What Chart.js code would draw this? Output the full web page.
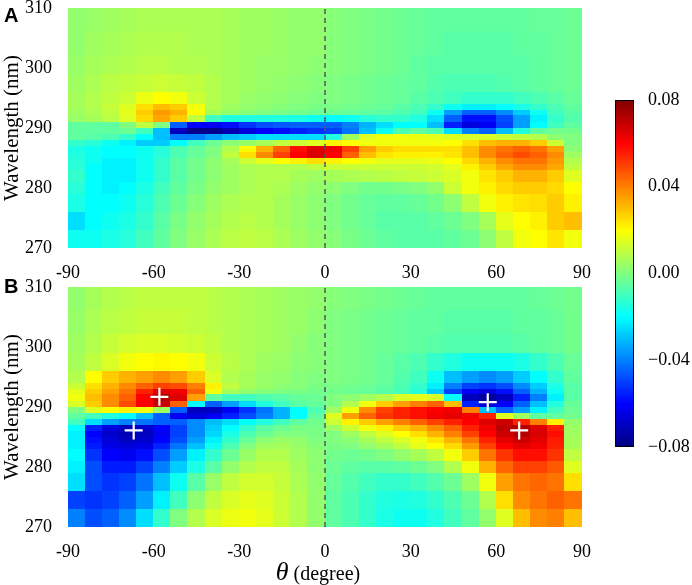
<!DOCTYPE html>
<html>
<head>
<meta charset="utf-8">
<script src="https://cdn.jsdelivr.net/npm/chart.js@4.4.1/dist/chart.umd.min.js"></script>
<style>
  body { margin: 0; background: #fff; }
  #wrap { position: relative; width: 692px; height: 585px; overflow: hidden; }
  canvas { position: absolute; }
</style>
</head>
<body>
<div id="wrap">
  <canvas id="panelA" width="600" height="280" style="left:0px;top:0px"></canvas>
  <canvas id="panelB" width="600" height="311" style="left:0px;top:274px"></canvas>
  <canvas id="colorbar" width="92" height="370" style="left:600px;top:90px"></canvas>
</div>
<script>
// theta bin centres (degree), each bin 6 degrees wide
const theta = [-87,-81,-75,-69,-63,-57,-51,-45,-39,-33,-27,-21,-15,-9,-3,3,9,15,21,27,33,39,45,51,57,63,69,75,81,87];
// wavelength bin edges (nm), top row first
const wavelengthEdges = [310,306,302,299,296,294,293,292,291,290,289,288,287,286,285,284,283,281,279,276,273,270];
const thetaTicks = [-90,-60,-30,0,30,60,90];
const wavelengthTicks = [270,280,290,300,310];
const colorTicks = [-0.08,-0.04,0,0.04,0.08];

// signal x 1000, one row per wavelength bin (top to bottom), one value per theta bin
const panelA = [
  [3,4,5,6,7,7,7,7,7,6,5,5,4,3,3, 1,0,-1,-2,-3,-4,-5,-5,-5,-5,-5,-5,-4,-4,-3],
  [3,5,6,7,8,8,8,7,7,6,5,5,4,3,3, 1,0,-1,-2,-3,-4,-5,-6,-6,-6,-6,-5,-5,-4,-3],
  [4,6,7,8,9,9,8,8,7,6,5,4,4,3,2, 1,0,-1,-2,-3,-5,-6,-6,-6,-6,-6,-6,-5,-4,-3],
  [5,7,9,10,11,12,11,10,8,6,5,4,3,2,1, 0,-1,-2,-3,-4,-5,-7,-8,-8,-8,-7,-6,-5,-4,-3],
  [6,8,10,12,17,20,18,12,8,6,4,3,2,1,0, 0,-1,-2,-3,-4,-6,-8,-10,-12,-12,-12,-10,-8,-6,-4],
  [6,8,11,15,25,30,28,18,8,5,3,2,1,0,-1, -1,-2,-3,-4,-6,-8,-12,-18,-22,-22,-20,-16,-12,-8,-5],
  [5,7,10,16,28,36,32,20,6,3,1,0,-1,-2,-3, -3,-4,-5,-6,-8,-10,-18,-35,-45,-45,-38,-28,-18,-10,-6],
  [4,6,9,15,26,34,28,10,-10,-15,-15,-15,-15,-16,-18, -20,-18,-14,-12,-12,-15,-25,-45,-58,-58,-48,-35,-22,-12,-7],
  [-5,-5,-5,0,10,0,-45,-60,-62,-58,-52,-48,-46,-45,-45, -45,-40,-32,-25,-20,-20,-30,-55,-65,-62,-50,-35,-20,-10,-5],
  [-5,-5,-5,-3,-10,-30,-70,-78,-78,-72,-65,-60,-58,-55,-52, -50,-42,-30,-18,-8,-5,-8,-25,-40,-45,-30,-15,-5,-2,-2],
  [-5,-6,-8,-12,-20,-30,-40,-40,-35,-30,-28,-25,-25,-25,-25, -15,5,15,18,18,17,16,15,14,14,12,10,8,2,0],
  [-12,-14,-18,-22,-28,-28,-20,-10,-3,2,4,6,10,12,15, 22,20,18,18,18,18,18,20,25,30,32,32,28,12,0],
  [-16,-18,-20,-20,-18,-14,-8,-4,0,8,20,32,45,58,65, 62,50,35,28,25,25,25,25,30,38,42,45,42,35,2],
  [-15,-18,-20,-20,-18,-14,-8,-4,0,10,25,38,50,60,66, 60,45,30,24,22,22,22,24,30,38,44,48,45,38,5],
  [-14,-18,-22,-22,-18,-12,-6,-2,2,6,12,16,20,22,25, 22,20,18,16,16,16,17,20,26,32,38,42,42,36,8],
  [-14,-20,-22,-22,-18,-12,-6,-2,2,5,7,8,8,8,10, 12,12,12,12,12,12,13,16,22,28,34,38,38,34,10],
  [-12,-20,-22,-22,-18,-12,-6,-2,2,5,7,8,8,6,5, 6,7,8,9,10,11,12,14,18,24,28,32,32,28,15],
  [-14,-20,-22,-20,-16,-10,-5,-1,3,5,7,8,7,5,3, 2,0,-2,-2,-1,0,3,12,18,22,26,28,28,26,20],
  [-16,-20,-20,-18,-14,-8,-3,1,5,7,8,8,6,4,2, 0,-2,-4,-5,-5,-4,-2,2,10,18,22,24,25,28,22],
  [-25,-20,-18,-16,-12,-6,-1,3,6,8,9,8,6,4,2, 0,-2,-4,-6,-6,-6,-5,-3,0,6,16,20,22,28,30],
  [-18,-18,-16,-14,-10,-5,0,4,7,9,10,9,7,5,3, 1,-1,-3,-5,-6,-6,-6,-5,-3,2,10,18,20,24,18]
];
const panelB = [
  [3,6,8,9,10,10,10,10,9,8,7,6,5,4,3, 1,0,-1,-2,-3,-4,-5,-5,-5,-5,-5,-5,-4,-3,-2],
  [4,7,9,10,11,11,11,10,9,8,7,6,5,4,2, 0,-1,-2,-3,-4,-5,-5,-6,-6,-6,-6,-5,-5,-4,-2],
  [5,8,11,13,14,14,13,12,10,8,7,6,5,3,1, 0,-1,-2,-3,-4,-5,-6,-7,-7,-7,-7,-6,-5,-4,-2],
  [6,10,14,18,20,21,20,18,12,9,7,5,4,2,1, 0,-1,-2,-4,-6,-8,-12,-15,-18,-18,-18,-16,-12,-8,-4],
  [8,20,28,32,35,38,35,28,14,8,6,4,3,1,0, 0,-1,-2,-4,-7,-10,-18,-30,-35,-38,-35,-28,-20,-12,-5],
  [12,25,32,38,45,50,48,40,22,10,6,4,2,1,-1, -1,-2,-3,-5,-8,-12,-22,-40,-50,-52,-48,-38,-28,-16,-6],
  [16,28,35,42,55,65,62,45,18,6,3,1,0,-1,-2, -2,-3,-4,-6,-9,-14,-28,-50,-62,-65,-58,-45,-32,-18,-6],
  [18,30,38,45,60,72,65,35,-5,-10,-10,-8,-6,-4,-3, 0,2,5,8,14,16,14,-20,-70,-75,-70,-55,-40,-22,-6],
  [14,28,38,48,60,68,45,-20,-45,-35,-25,-15,-10,-6,-4, 0,8,18,28,35,40,45,30,-55,-65,-60,-45,-30,-15,-4],
  [0,15,20,22,18,5,-45,-70,-70,-62,-52,-42,-32,-20,-8, 5,18,38,50,55,58,60,62,40,-30,-45,-35,-22,-10,-3],
  [-5,-10,-15,-20,-30,-45,-62,-65,-62,-55,-48,-40,-32,-20,-5, 15,35,45,52,55,58,62,64,62,55,15,5,-5,-5,-2],
  [-10,-25,-35,-40,-42,-45,-45,-38,-30,-25,-20,-15,-10,-5,-2, 12,22,28,35,40,45,50,55,60,65,68,55,40,22,3],
  [-20,-55,-65,-70,-68,-60,-50,-38,-28,-20,-12,-6,-3,-1,-1, 5,12,18,22,28,32,38,45,55,62,70,72,65,55,5],
  [-22,-60,-68,-72,-70,-62,-50,-38,-26,-16,-8,-3,0,0,-1, 0,5,10,15,20,25,32,40,50,60,68,72,66,58,5],
  [-22,-58,-66,-70,-68,-60,-48,-35,-22,-12,-4,2,4,3,0, 0,2,6,10,14,18,24,32,42,55,64,68,64,56,6],
  [-22,-56,-64,-66,-64,-55,-42,-30,-18,-8,0,5,6,4,1, -1,0,3,6,10,16,20,26,36,50,60,64,62,55,6],
  [-20,-52,-60,-62,-58,-48,-35,-22,-12,-3,4,8,8,5,2, -2,-3,-2,0,3,6,10,18,28,42,52,58,58,52,10],
  [-22,-48,-56,-56,-50,-40,-28,-16,-6,3,8,10,10,6,2, -3,-5,-6,-6,-5,-3,0,8,18,32,44,50,50,46,15],
  [-25,-48,-52,-50,-42,-30,-18,-6,4,10,13,13,11,7,3, -4,-7,-10,-12,-12,-10,-7,-3,5,18,35,42,44,42,25],
  [-50,-52,-50,-45,-35,-22,-10,2,10,14,16,15,12,8,3, -5,-8,-12,-15,-16,-15,-12,-8,-3,8,25,38,42,45,42],
  [-40,-48,-45,-38,-25,-12,0,8,14,17,18,16,12,8,3, -5,-8,-12,-16,-18,-18,-15,-10,-5,3,15,30,38,40,30]
];

// marked extrema in panel B
const crossTheta = [-58, -67, 57, 68];
const crossWavelength = [291.7, 286.1, 290.8, 286.1];

const serif = 'Liberation Serif';

function jet(v) {
  const t = Math.min(1, Math.max(0, (v + 0.08) / 0.16));
  const c = k => Math.round(255 * Math.min(1, Math.max(0, 1.5 - Math.abs(4 * t - k))));
  return `rgb(${c(3)},${c(2)},${c(1)})`;
}

// no extra room for half tick labels: plot area sits exactly inside the padding
function noOverflow(s) {
  s.paddingTop = 0;
  s.paddingBottom = 0;
  s.paddingLeft = 0;
  s.paddingRight = 0;
}

function heatmap(grid) {
  return {
    id: 'heatmap',
    beforeDatasetsDraw(chart) {
      const { ctx, chartArea: a, scales: { x, y } } = chart;
      const half = (theta[1] - theta[0]) / 2;
      ctx.save();
      ctx.beginPath();
      ctx.rect(a.left, a.top, a.width, a.height);
      ctx.clip();
      grid.forEach((row, i) => {
        const y0 = Math.floor(y.getPixelForValue(wavelengthEdges[i]));
        const y1 = Math.ceil(y.getPixelForValue(wavelengthEdges[i + 1]));
        row.forEach((v, j) => {
          const x0 = Math.floor(x.getPixelForValue(theta[j] - half));
          const x1 = Math.ceil(x.getPixelForValue(theta[j] + half));
          ctx.fillStyle = jet(v / 1000);
          ctx.fillRect(x0, y0, x1 - x0, y1 - y0);
        });
      });
      ctx.restore();
    }
  };
}

function panelLabel(letter, top) {
  return {
    id: 'panelLabel',
    afterDraw(chart) {
      const ctx = chart.ctx;
      ctx.save();
      ctx.fillStyle = '#000';
      ctx.font = 'bold 20px "Liberation Sans"';
      ctx.textBaseline = 'top';
      ctx.fillText(letter, 4, top);
      ctx.restore();
    }
  };
}

const thetaTitle = {
  id: 'thetaTitle',
  afterDraw(chart) {
    const { ctx, chartArea: a } = chart;
    ctx.save();
    ctx.fillStyle = '#000';
    ctx.textBaseline = 'alphabetic';
    ctx.font = `italic 26px "${serif}"`;
    const w1 = ctx.measureText('\u03B8').width;
    ctx.font = `20px "${serif}"`;
    const w2 = ctx.measureText(' (degree)').width;
    const x0 = (a.left + a.right) / 2 - (w1 + w2) / 2 - 7;
    const yb = a.bottom + 53;
    ctx.font = `italic 26px "${serif}"`;
    ctx.fillText('\u03B8', x0, yb);
    ctx.font = `20px "${serif}"`;
    ctx.fillText(' (degree)', x0 + w1, yb);
    ctx.restore();
  }
};

function panelConfig(grid, padTop, xHeight, extraDatasets, plugins) {
  return {
    type: 'scatter',
    data: {
      datasets: extraDatasets.concat([{
        data: [{ x: 0, y: 270 }, { x: 0, y: 310 }],
        showLine: true,
        borderColor: '#555',
        borderWidth: 1.5,
        borderDash: [5, 4],
        pointRadius: 0
      }])
    },
    options: {
      responsive: false,
      animation: false,
      layout: { padding: { top: padTop, right: 18, left: 0, bottom: 0 } },
      scales: {
        x: {
          type: 'linear',
          min: -90,
          max: 90,
          afterBuildTicks: s => { s.ticks = thetaTicks.map(v => ({ value: v })); },
          afterFit: s => { s.height = xHeight; noOverflow(s); },
          ticks: { color: '#000', font: { family: serif, size: 18 }, padding: 6, maxRotation: 0 },
          grid: { display: false },
          border: { display: false }
        },
        y: {
          type: 'linear',
          min: 270,
          max: 310,
          afterBuildTicks: s => { s.ticks = wavelengthTicks.map(v => ({ value: v })); },
          afterFit: s => { s.width = 68; noOverflow(s); },
          title: {
            display: true,
            text: 'Wavelength (nm)',
            color: '#000',
            font: { family: serif, size: 21 },
            padding: 0
          },
          ticks: { color: '#000', font: { family: serif, size: 18 }, padding: 8 },
          grid: { display: false },
          border: { display: false }
        }
      },
      plugins: { legend: { display: false }, tooltip: { enabled: false } }
    },
    plugins: [heatmap(grid)].concat(plugins)
  };
}

new Chart(document.getElementById('panelA'),
  panelConfig(panelA, 8, 32, [], [panelLabel('A', 6)]));

new Chart(document.getElementById('panelB'),
  panelConfig(panelB, 13, 58, [{
    data: crossTheta.map((t, i) => ({ x: t, y: crossWavelength[i] })),
    pointStyle: 'cross',
    pointRadius: 9,
    pointBorderWidth: 2.2,
    pointBorderColor: '#fff',
    showLine: false
  }], [panelLabel('B', 3), thetaTitle]));

const colorRamp = {
  id: 'colorRamp',
  beforeDraw(chart) {
    const { ctx, chartArea: a, scales: { y } } = chart;
    const lo = colorTicks[0], hi = colorTicks[colorTicks.length - 1];
    const g = ctx.createLinearGradient(0, y.getPixelForValue(lo), 0, y.getPixelForValue(hi));
    for (let k = 0; k <= 16; k++) {
      g.addColorStop(k / 16, jet(lo + (hi - lo) * k / 16));
    }
    ctx.save();
    ctx.fillStyle = g;
    ctx.fillRect(a.left, a.top, a.width, a.height);
    ctx.strokeStyle = '#000';
    ctx.lineWidth = 1;
    ctx.strokeRect(a.left + 0.5, a.top + 0.5, a.width - 1, a.height - 1);
    ctx.restore();
  }
};

new Chart(document.getElementById('colorbar'), {
  type: 'scatter',
  data: { datasets: [] },
  options: {
    responsive: false,
    animation: false,
    layout: { padding: { top: 10, bottom: 13, left: 15, right: 0 } },
    scales: {
      x: { display: false, min: 0, max: 1 },
      y: {
        position: 'right',
        min: colorTicks[0],
        max: colorTicks[colorTicks.length - 1],
        afterBuildTicks: s => { s.ticks = colorTicks.map(v => ({ value: v })); },
        afterFit: s => { s.width = 58; noOverflow(s); },
        ticks: {
          color: '#000',
          font: { family: serif, size: 18 },
          padding: 6,
          callback: v => (v < -1e-9 ? '\u2212' : '') + Math.abs(v).toFixed(2)
        },
        grid: { display: false },
        border: { display: false }
      }
    },
    plugins: { legend: { display: false }, tooltip: { enabled: false } }
  },
  plugins: [colorRamp]
});
</script>
</body>
</html>
